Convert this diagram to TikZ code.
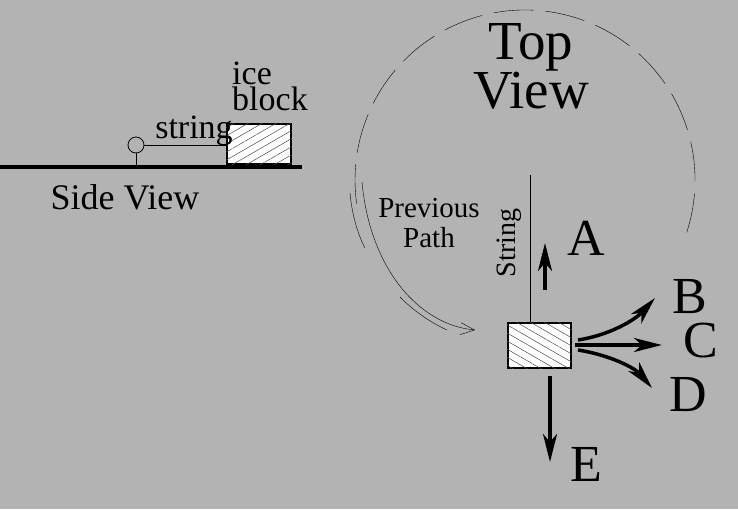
\documentclass[tikz,border=0pt]{standalone}
\usepackage{fontspec}
\setmainfont{Liberation Serif}
\usetikzlibrary{patterns.meta,arrows.meta}
\definecolor{bg}{HTML}{B3B3B3}
\begin{document}
\begin{tikzpicture}[x=1pt,y=-1pt,
  lbl/.style={inner sep=0pt,font=\fontsize{52}{52}\selectfont},
  arr/.style={line width=3.5pt,-{Stealth[length=28pt,width=14pt,inset=8pt]}},
  hatchA/.style={pattern={Lines[angle=30,distance=7pt,line width=0.5pt]},pattern color=black!70},
  hatchB/.style={pattern={Lines[angle=-30,distance=7pt,line width=0.5pt]},pattern color=black!70}]
\fill[bg] (0,0) rectangle (738,509);
\useasboundingbox (0,0) rectangle (738,509);
% side view
\draw[line width=4pt] (0,167) -- (302,167);
\node[draw,line width=1.5pt,fill=white,minimum width=64pt,minimum height=40pt,anchor=north west,inner sep=0pt] (sb) at (226,123) {};
\fill[hatchA] (sb.south west) rectangle (sb.north east);
\node[draw,thick,circle,minimum size=16pt,inner sep=0pt] (post) at (136,145) {};
\draw[thick] (post.south) -- (136,167);
\draw (post.east) -- (sb.west |- post.east);
\node[inner sep=0pt,font=\fontsize{34}{26}\selectfont,align=left,anchor=north west] (ib) at (232,62) {ice\\block};
\node[inner sep=0pt,font=\fontsize{34}{34}\selectfont] (st) at (194,131) {string};
\node[inner sep=0pt,font=\fontsize{36}{36}\selectfont] (sv) at (125,197) {Side View};
% top view
\draw[dash pattern=on 40pt off 12pt] (525,180) ++(18:170) arc (18:-188:170);
\node[inner sep=0pt,font=\fontsize{55}{38}\selectfont,align=center] (tv) at (531,66) {Top\\View};
\node[draw,line width=1.5pt,fill=white,minimum width=63pt,minimum height=45pt,anchor=north west,inner sep=0pt] (tb) at (507,322) {};
\fill[hatchB] (tb.south west) rectangle (tb.north east);
\draw (530,175) -- (tb.north -| 530,0);
\node[rotate=90,inner sep=0pt,font=\fontsize{28}{28}\selectfont] (sl) at (509,243) {String};
\node[inner sep=0pt,font=\fontsize{29}{30}\selectfont,align=center] (pp) at (429,223) {Previous\\Path};
\draw[-{Straight Barb[length=14pt,width=12pt]}] (362,182) .. controls (370,270) and (420,325) .. (475,330);
\draw (350,193) .. controls (352,215) and (358,235) .. (365,248);
\draw (400,297) .. controls (415,312) and (430,322) .. (447,330);
% arrows
\draw[arr] (545,290) -- (545,243);
\draw[arr] (550,376) -- (550,462);
\draw[arr] (575,345) -- (662,345);
\draw[arr] (578,340) .. controls (610,335) and (635,320) .. (655,298);
\draw[arr] (578,350) .. controls (610,355) and (635,368) .. (652,388);
\node[lbl] (A) at (586,238) {A};
\node[lbl] (B) at (690,297) {B};
\node[lbl] (C) at (701,341) {C};
\node[lbl] (D) at (688,395) {D};
\node[lbl] (E) at (586,464) {E};
\end{tikzpicture}
\end{document}
